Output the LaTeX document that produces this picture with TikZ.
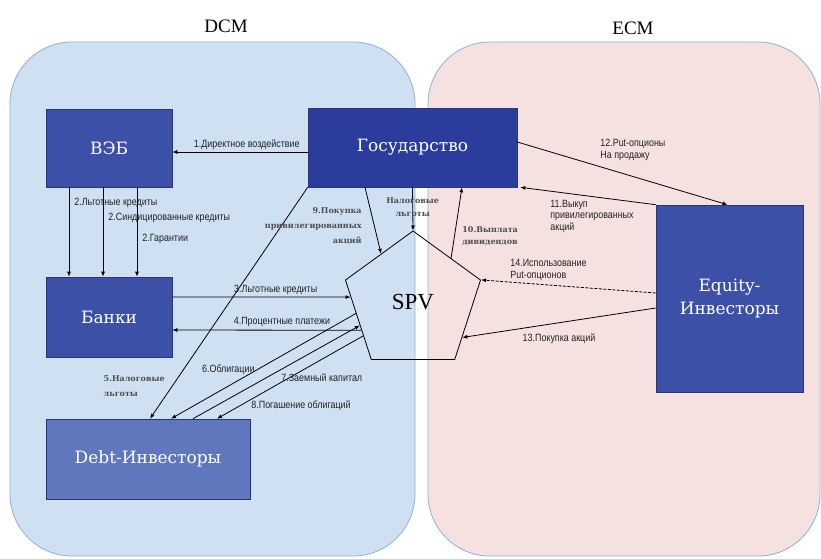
\documentclass[tikz,border=0pt]{standalone}
\usepackage{fontspec}
\setmainfont{Liberation Serif}
\newfontfamily\lblfont[FakeStretch=0.85]{Liberation Sans}
\newfontfamily\boxfont{DejaVu Serif}
\usetikzlibrary{arrows.meta, positioning, shapes.geometric, calc}
\definecolor{dcmfill}{HTML}{CFE0F2}
\definecolor{ecmfill}{HTML}{F5E1E0}
\definecolor{zone}{HTML}{8EB0DC}
\definecolor{vebblue}{HTML}{3B50A6}
\definecolor{gosblue}{HTML}{2C3C9C}
\definecolor{debtblue}{HTML}{6077BE}
\definecolor{edgeblue}{HTML}{27357A}
\definecolor{ink}{HTML}{222222}

\begin{document}
\begin{tikzpicture}[x=1pt, y=-1pt, >={Latex[length=5pt, width=4pt]}, line width=0.8pt,
    actor/.style={draw=edgeblue, line width=0.6pt, fill=vebblue, text=white, align=center, inner sep=0pt,
      font=\boxfont\fontsize{17}{23}\selectfont},
    lbl/.style={font=\lblfont\fontsize{10.5}{11.5}\selectfont, text=ink, inner sep=1pt, align=left},
    blbl/.style={font=\boxfont\bfseries\fontsize{8}{15}\selectfont, text=ink!80, inner sep=1pt},
    flow/.style={->, black}]

  \useasboundingbox (0,0) rectangle (821,558);

  % market zones
  \draw[zone, fill=dcmfill, rounded corners=62pt] (10,42) rectangle (415,556);
  \draw[zone, fill=ecmfill, rounded corners=62pt] (428,42) rectangle (820,556);
  \node[font=\fontsize{19}{20}\selectfont] (dcm) at (226,26) {DCM};
  \node[font=\fontsize{19}{20}\selectfont] (ecm) at (633,28) {ECM};

  % participants
  \node[actor, minimum width=126pt, minimum height=78pt] (veb) at (109,148) {ВЭБ};
  \node[actor, fill=gosblue, minimum width=209pt, minimum height=79pt] (gos) at (412.5,147.5) {Государство};
  \node[actor, minimum width=126pt, minimum height=80pt] (banki) at (109,317) {Банки};
  \node[actor, fill=debtblue, minimum width=204pt, minimum height=80pt] (debt) at (148,459) {Debt-Инвесторы};
  \node[actor, minimum width=147pt, minimum height=187pt] (equity) at (729.5,298.5) {Equity-\\Инвесторы};
  \node[draw, regular polygon, regular polygon sides=5, minimum size=142pt, inner sep=0pt,
    font=\fontsize{23}{25}\selectfont] (spv) at (413,302) {SPV};

  % flows
  \draw[flow] ([yshift=-4.5pt]gos.west) -- node[lbl, above=1pt, pos=.45] {1.Директное воздействие} ([yshift=-4pt]veb.east);
  \foreach \dx/\p/\txt in {-40/0.17/2.Льготные кредиты, -6/0.34/2.Синдицированные кредиты, 28/0.58/2.Гарантии}
    \draw[flow] ([xshift=\dx pt]veb.south) -- node[lbl, right=4pt, pos=\p] {\txt} ([xshift=\dx pt]banki.north);

  \draw[flow] ([yshift=20pt]banki.east) -- node[lbl, above=1pt, pos=.58] {3.Льготные кредиты} ($(spv.corner 2)!0.215!(spv.corner 3)$);
  \draw[flow] ($(spv.corner 2)!0.63!(spv.corner 3)$) -- node[lbl, above=2pt, pos=.42] {4.Процентные платежи} ([yshift=-13pt]banki.east);

  \draw[flow] (gos.south west) -- node[blbl, left=6pt, pos=.86, align=left] {5.Налоговые\\льготы} ([xshift=2pt]debt.north);
  \draw[flow] ($(spv.corner 2)!0.42!(spv.corner 3)$) -- node[lbl, above=10pt, pos=.69] {6.Облигации} ([xshift=23pt]debt.north);
  \draw[flow] ([xshift=45pt]debt.north) -- ($(spv.corner 2)!0.57!(spv.corner 3)$);
  \draw[flow] ($(spv.corner 2)!0.70!(spv.corner 3)$) -- ([xshift=69pt]debt.north);
  \node[lbl, anchor=west] (l7) at (280,378) {7.Заемный капитал};
  \node[lbl, anchor=west] (l8) at (250,406) {8.Погашение облигаций};

  \draw[flow] ([xshift=-47.5pt]gos.south) -- ($(spv.corner 1)!0.47!(spv.corner 2)$);
  \node[blbl, align=right, anchor=east] (l9) at (363,226) {9.Покупка\\привилегированных\\акций};
  \draw[flow] (gos.south) -- node[blbl, pos=.45, align=center, font=\boxfont\bfseries\fontsize{8}{13}\selectfont] {Налоговые\\льготы} (spv.corner 1);
  \draw[flow] ($(spv.corner 1)!0.56!(spv.corner 5)$) -- ([xshift=49.5pt]gos.south);
  \node[blbl, align=left, anchor=west, font=\boxfont\bfseries\fontsize{8}{12}\selectfont] (l10) at (461,236) {10.Выплата\\дивидендов};

  \draw[flow] (equity.north west) -- ([xshift=3pt]gos.south east);
  \node[lbl, anchor=west] (l11) at (549,216) {11.Выкуп\\привилегированных\\акций};
  \draw[flow] ([yshift=5.5pt]gos.east) -- ([xshift=-2pt]equity.north);
  \node[lbl, anchor=west] (l12) at (599,150) {12.Put-опционы\\На продажу};

  \draw[flow] ([yshift=-9.5pt]equity.west) -- node[lbl, below=10pt] {13.Покупка акций} ($(spv.corner 5)!0.72!(spv.corner 4)$);
  \draw[flow, dash pattern=on 3pt off 1.5pt] ([yshift=5.5pt]equity.west) -- (spv.corner 5);
  \node[lbl, anchor=west] (l14) at (509,270) {14.Использование\\Put-опционов};
\end{tikzpicture}
\end{document}
